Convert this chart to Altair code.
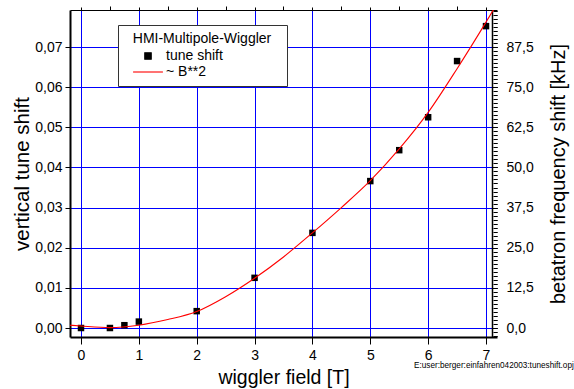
import altair as alt
import pandas as pd

# measured data: wiggler field [T] vs vertical tune shift
field_T = [0.0, 0.5, 0.75, 1.0, 2.0, 3.0, 4.0, 5.0, 5.5, 6.0, 6.5, 7.0]
tune_shift = [0.0000, 0.0000, 0.0007, 0.0016, 0.0042, 0.0125, 0.0237, 0.0366, 0.0443, 0.0525, 0.0665, 0.0752]

# fitted ~B**2 curve
fit_T = [-0.19, 0.0, 0.5, 1.0, 1.5, 2.0, 2.5, 3.0, 3.5, 4.0, 4.5, 5.0, 5.5, 6.0, 6.5, 7.0, 7.2]
fit_shift = [0.0007, 0.0005, 0.0001, 0.0007, 0.0021, 0.0041, 0.0078, 0.0124, 0.0177, 0.0237, 0.0300, 0.0367, 0.0446, 0.0537, 0.0646, 0.0762, 0.0810]

x_major = [0, 1, 2, 3, 4, 5, 6, 7]
x_minor = [0.5, 1.5, 2.5, 3.5, 4.5, 5.5, 6.5]
x_top = [0, 0.5, 1, 1.5, 2, 2.5, 3, 3.5, 4, 4.5, 5, 5.5, 6, 6.5, 7]
y_major = [0.00, 0.01, 0.02, 0.03, 0.04, 0.05, 0.06, 0.07]
y_minor = [round(i * 0.001, 3) for i in range(-2, 80)]
khz_major = [0.0, 12.5, 25.0, 37.5, 50.0, 62.5, 75.0, 87.5]
khz_minor = [round(i * 1.25, 2) for i in range(-2, 80)]
khz_per_tune = 1250.0

XDOM = [-0.19, 7.19]
YDOM = [-0.00224, 0.07922]
KDOM = [YDOM[0] * khz_per_tune, YDOM[1] * khz_per_tune]

legend_title = "\u200b\u00a0\u00a0HMI-Multipole-Wiggler\u00a0\u00a0\u200b"
series_names = ["tune shift", "~ B**2"]
footnote = "E:user:berger:einfahren042003:tuneshift.opj"

pts = pd.DataFrame({"B": field_T, "dq": tune_shift, "series": series_names[0]})
fit = pd.DataFrame({"B": fit_T, "dq": fit_shift})

FONT = "Liberation Sans"
BLUE = "#0000ff"

def xs():
    return alt.Scale(domain=XDOM, nice=False, zero=False)

def ys():
    return alt.Scale(domain=YDOM, nice=False, zero=False)

def ks():
    return alt.Scale(domain=KDOM, nice=False, zero=False)

legend = alt.Legend(
    title=legend_title, orient="none", legendX=48, legendY=15,
    direction="vertical", fillColor="white", strokeColor="#333333", padding=7,
    titleFont=FONT, titleFontSize=14, titleFontWeight="normal", titleColor="black",
    labelFont=FONT, labelFontSize=14, labelColor="black", titlePadding=3,
    rowPadding=2, labelOffset=11, symbolOffset=16, symbolSize=42,
    symbolStrokeColor={"expr": "datum.value == 'tune shift' ? 'black' : 'red'"},
    symbolStrokeWidth=1.1,
)

points = alt.Chart(pts).mark_point(filled=True, opacity=1, size=42).encode(
    x=alt.X("B:Q", scale=xs(), axis=alt.Axis(
        values=x_major, title="wiggler field [T]", grid=True, gridColor=BLUE, gridWidth=1,
        gridOpacity=1, tickSize=7, tickColor="black", domainColor="black", domainWidth=2,
        labelPadding=4, titlePadding=6, labelFontSize=14, titleFontSize=19.5)),
    y=alt.Y("dq:Q", scale=ys(), axis=alt.Axis(
        values=y_major, title="vertical tune shift", grid=True, gridColor=BLUE, gridWidth=1,
        gridOpacity=1, tickSize=5, tickColor="black", domainColor="black", domainWidth=2,
        labelExpr="replace(format(datum.value, '.2f'), '.', ',')",
        labelPadding=3, titlePadding=2, labelFontSize=14, titleFontSize=20.5)),
    color=alt.Color("series:N", scale=alt.Scale(domain=series_names, range=["black", "red"]), legend=legend),
    shape=alt.Shape("series:N", scale=alt.Scale(domain=series_names, range=["square", "M-4.6,0H4.6"]), legend=legend),
)

line = alt.Chart(fit).mark_line(color="red", strokeWidth=1.1, interpolate="monotone", clip=True).encode(
    x=alt.X("B:Q", scale=xs(), axis=alt.Axis(
        values=x_minor, labels=False, title=None, grid=False, domain=False,
        tickSize=4, tickColor="black")),
    y=alt.Y("dq:Q", scale=ys(), axis=alt.Axis(
        values=y_minor, labels=False, title=None, grid=False, domain=False,
        tickSize=4, offset=-4, tickColor="black")),
)

right_major = alt.Chart(pts).transform_calculate(khz=f"datum.dq * {khz_per_tune}").mark_point(opacity=0).encode(
    x=alt.X("B:Q", scale=xs(), axis=alt.Axis(
        orient="top", values=x_top, labels=False, title=None, grid=False,
        tickSize=3, tickColor="black", domainColor="black", domainWidth=1.2)),
    y=alt.Y("khz:Q", scale=ks(), axis=alt.Axis(
        orient="right", values=khz_major, title="betatron frequency shift [kHz]", grid=False,
        tickSize=5, offset=-5, tickColor="black", domainColor="black", domainWidth=1.5,
        labelExpr="replace(format(datum.value, '.1f'), '.', ',')", titleAngle=270,
        labelPadding=9, titlePadding=35, labelFontSize=14, titleFontSize=20)),
)

right_minor = alt.Chart(pts).transform_calculate(khz=f"datum.dq * {khz_per_tune}").mark_point(opacity=0).encode(
    x=alt.X("B:Q", scale=xs(), axis=None),
    y=alt.Y("khz:Q", scale=ks(), axis=alt.Axis(
        orient="right", values=khz_minor, labels=False, title=None, grid=False, domain=False,
        tickSize=3, offset=-3, tickColor="black")),
)

note = alt.Chart(pd.DataFrame({"t": [footnote]})).mark_text(
    align="left", baseline="alphabetic", fontSize=8.2, font=FONT, color="black"
).encode(x=alt.value(344), y=alt.value(358), text="t:N")

chart = alt.layer(points, line, right_major, right_minor, note).resolve_scale(
    x="independent", y="independent"
).properties(
    width=427, height=327,
    autosize=alt.AutoSizeParams(type="none"),
    padding={"left": 70, "top": 10, "right": 77, "bottom": 52},
).configure_view(stroke=None).configure_axis(
    labelFont=FONT, titleFont=FONT, labelColor="black", titleColor="black",
    titleFontWeight="normal",
)

chart.save("out.html", embed_options={"renderer": "svg", "actions": False})
